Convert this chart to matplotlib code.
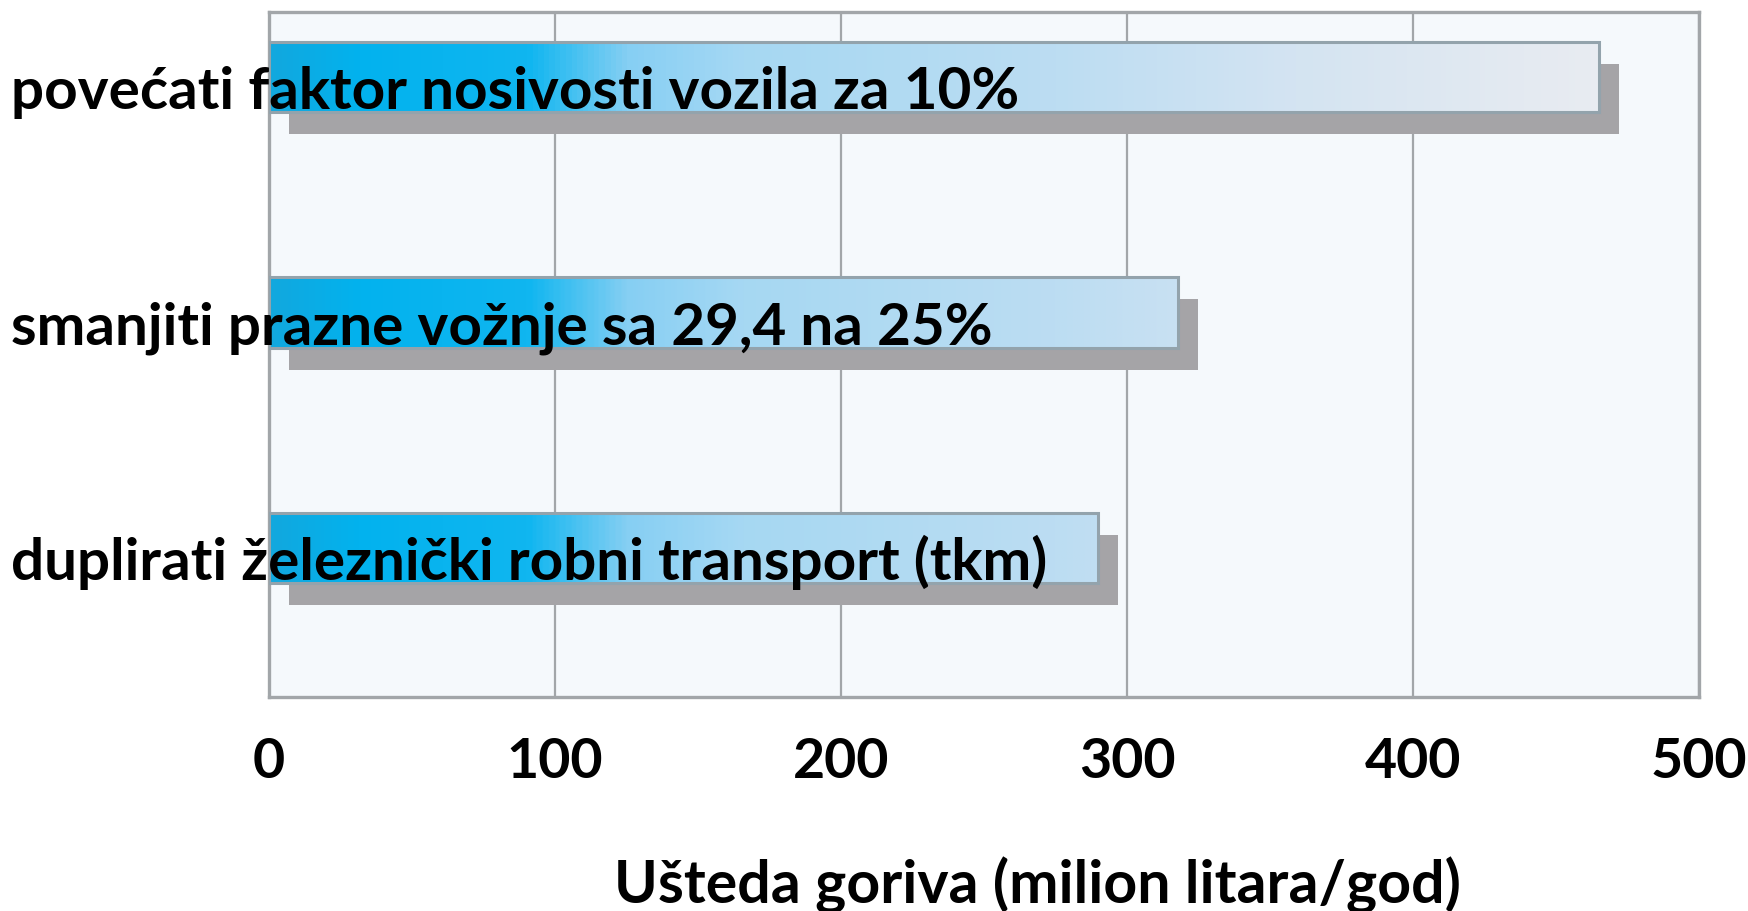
import numpy as np
import matplotlib
matplotlib.use("Agg")
import matplotlib.pyplot as plt
import matplotlib.transforms as mtransforms
from matplotlib.colors import LinearSegmentedColormap

# ---- data ----
categories = [
    "povećati faktor nosivosti vozila za 10%",
    "smanjiti prazne vožnje sa 29,4 na 25%",
    "duplirati železnički robni transport (tkm)",
]
values = [465, 318, 290]
x_ticks = [0, 100, 200, 300, 400, 500]
x_label = "Ušteda goriva (milion litara/god)"

FONT = "Lato"
W, H, DPI = 1748, 912, 100
fig = plt.figure(figsize=(W / DPI, H / DPI), dpi=DPI)
fig.patch.set_facecolor("white")

left, right, top, bottom = 269 / W, 1699 / W, 1 - 13 / H, 1 - 698 / H
ax = fig.add_axes([left, bottom, right - left, top - bottom])
ax.set_facecolor("#F5F9FC")

ypos = np.arange(len(categories))
bar_h = 0.30
xmax = x_ticks[-1]

grad_cmap = LinearSegmentedColormap.from_list(
    "bargrad",
    [(0.0, "#12A8DE"), (0.06, "#02B2EE"), (0.18, "#10B6F0"), (0.25, "#86CFF3"),
     (0.33, "#A6D8F3"), (0.55, "#BCDDF2"), (0.72, "#D4E4F2"), (0.88, "#E4EAF1"),
     (1.0, "#EEEEF2")])

# shadow (offset copy of the bars)
shadow_tr = mtransforms.offset_copy(ax.transData, fig=fig, x=20, y=-22, units="dots")
ax.barh(ypos, values, height=bar_h, color="#A5A4A7", edgecolor="none",
        transform=shadow_tr, zorder=2)

# front bars with gradient fill
bars = ax.barh(ypos, values, height=bar_h, facecolor="none",
               edgecolor="#93A3AC", linewidth=2.2, zorder=4)
for b, v, y in zip(bars, values, ypos):
    g = np.linspace(0, v, 400)[None, :]
    im = ax.imshow(g, extent=(0, v, y + bar_h / 2, y - bar_h / 2), aspect="auto",
                   cmap=grad_cmap, vmin=0, vmax=xmax, interpolation="bilinear",
                   zorder=3)
    im.set_clip_path(b)

ax.set_xlim(0, xmax)
ax.set_ylim(2.632, -0.276)
ax.set_aspect("auto")

ax.set_xticks(x_ticks)
ax.set_xticklabels([str(t) for t in x_ticks], fontsize=40, fontweight="bold",
                   family=FONT)
ax.tick_params(axis="x", length=0, pad=28)
ax.set_yticks([])

ax.grid(axis="x", color="#A2A6A9", linewidth=1.6, zorder=1)
ax.set_axisbelow(True)
for s in ax.spines.values():
    s.set_color("#A2A6A9")
    s.set_linewidth(2.4)

# category labels, left-aligned at the figure edge, overlapping bars
lab_tr = mtransforms.blended_transform_factory(fig.transFigure, ax.transData)
for y, c in zip(ypos, categories):
    ax.text(11 / W, y + 0.13, c, transform=lab_tr, ha="left", va="baseline",
            fontsize=42, fontweight="bold", family=FONT, color="black",
            zorder=10, clip_on=False)

fig.text(1037 / W, 1 - 903 / H, x_label, ha="center", va="baseline",
         fontsize=42.5, fontweight="bold", family=FONT, color="black")

fig.savefig("out.png", dpi=DPI)
